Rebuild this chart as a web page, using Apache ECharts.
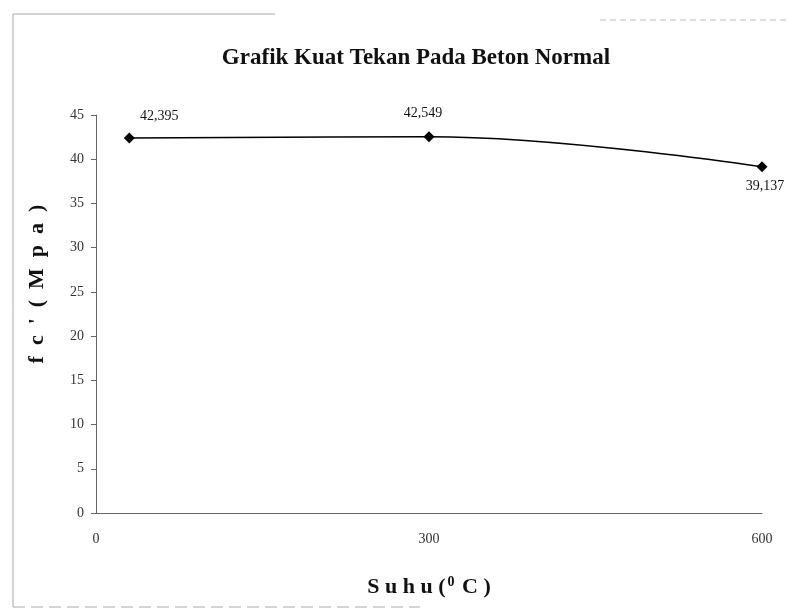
<!DOCTYPE html>
<html>
<head>
<meta charset="utf-8">
<script src="https://cdn.jsdelivr.net/npm/echarts@6/dist/echarts.min.js"></script>
<style>html,body{margin:0;padding:0;background:#fff}#c{width:789px;height:611px}</style>
</head>
<body>
<div id="c"></div>
<script>
// Data
const suhu = [30, 300, 600];                 // temperature (°C)
const kuatTekan = [42.395, 42.549, 39.137];  // fc' (MPa)
const dataLabels = ['42,395', '42,549', '39,137'];
const xTicks = [0, 300, 600];
const yTicks = [0, 5, 10, 15, 20, 25, 30, 35, 40, 45];

const labelPlacement = [
  { position: 'top', offset: [30, -4] },
  { position: 'top', offset: [-6, -6] },
  { position: 'bottom', offset: [3, 2] }
];

const font = '"Liberation Serif", "Times New Roman", serif';
const chart = echarts.init(document.getElementById('c'));
const seriesData = suhu.map((x, i) => ({
  value: [x, kuatTekan[i]],
  label: Object.assign({ formatter: dataLabels[i] }, labelPlacement[i])
}));

chart.setOption({
  backgroundColor: '#fff',
  animation: false,
  title: {
    text: 'Grafik Kuat Tekan Pada Beton Normal',
    left: 411, top: 42, textAlign: 'center',
    textStyle: { fontFamily: font, fontWeight: 'bold', fontSize: 23, color: '#111' }
  },
  grid: { left: 96, right: 27, top: 115, bottom: 98 },
  xAxis: {
    type: 'value', min: xTicks[0], max: xTicks[xTicks.length - 1], interval: 300,
    axisLine: { show: true, lineStyle: { color: '#666', width: 1 } },
    axisTick: { show: false },
    splitLine: { show: false },
    axisLabel: { margin: 19, fontFamily: font, fontSize: 14, color: '#333' },
    name: '{a|S u h u (}{s|0}{a| C )}',
    nameLocation: 'middle', nameGap: 62,
    nameTextStyle: {
      rich: {
        a: { fontFamily: font, fontWeight: 'bold', fontSize: 22, color: '#111' },
        s: { fontFamily: font, fontWeight: 'bold', fontSize: 14, color: '#111', verticalAlign: 'top', padding: [0, 2, 10, 2] }
      }
    }
  },
  yAxis: {
    type: 'value', min: yTicks[0], max: yTicks[yTicks.length - 1], interval: 5,
    axisLine: { show: true, lineStyle: { color: '#666', width: 1 } },
    axisTick: { show: true, inside: false, length: 5, lineStyle: { color: '#666' } },
    splitLine: { show: false },
    axisLabel: { margin: 12, fontFamily: font, fontSize: 14, color: '#333' }
  },
  graphic: [
    {
      type: 'text', x: 37, y: 284, rotation: Math.PI / 2,
      style: { text: "f  c  '  (  M  p  a  )", font: 'bold 22px ' + font, fill: '#111', align: 'center', verticalAlign: 'middle' }
    },
    {
      type: 'polyline', silent: true,
      shape: { points: [[13, 607], [13, 14], [275, 14]] },
      style: { stroke: '#aaa', lineWidth: 1, fill: null }
    },
    {
      type: 'line', silent: true,
      shape: { x1: 600, y1: 20, x2: 789, y2: 20 },
      style: { stroke: '#bbb', lineWidth: 1, lineDash: [6, 4] }
    },
    {
      type: 'line', silent: true,
      shape: { x1: 13, y1: 607, x2: 420, y2: 607 },
      style: { stroke: '#aaa', lineWidth: 1, lineDash: [12, 6] }
    }
  ],
  series: [{
    type: 'line',
    data: seriesData,
    smooth: 0.4,
    symbol: 'diamond',
    symbolSize: 11,
    lineStyle: { color: '#000', width: 1.5 },
    itemStyle: { color: '#000' },
    label: { show: true, fontFamily: font, fontSize: 14, color: '#111' }
  }]
});
</script>
</body>
</html>
